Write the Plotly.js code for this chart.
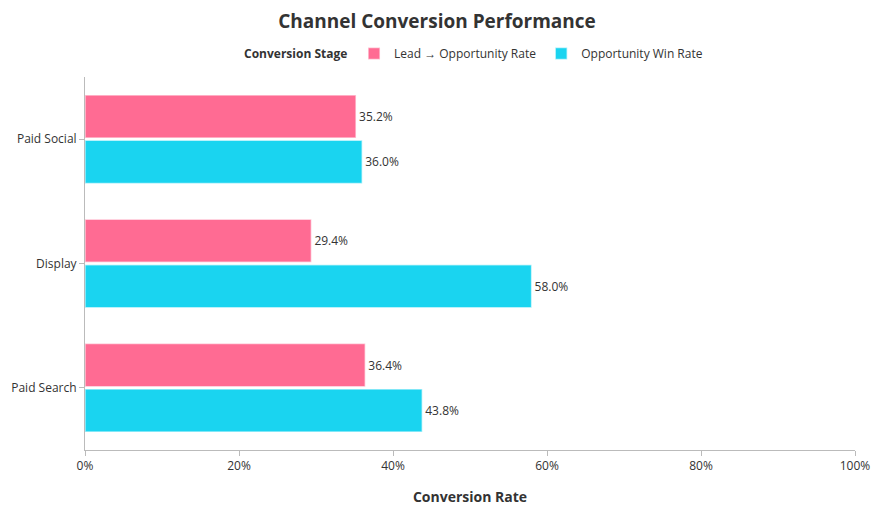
<!DOCTYPE html>
<html><head><meta charset="utf-8">
<script src="https://cdn.plot.ly/plotly-3.0.1.min.js"></script>
<style>html,body{margin:0;padding:0;background:#fff}#chart{width:874px;height:510px}</style>
</head><body><div id="chart"></div>
<script>
var categories = ["Paid Search", "Display", "Paid Social"];
var leadToOpp = [36.4, 29.4, 35.2];
var winRate = [43.8, 58.0, 36.0];
var seriesNames = ["Lead → Opportunity Rate", "Opportunity Win Rate"];
var legendTitle = "Conversion Stage";
var tickVals = [0, 20, 40, 60, 80, 100];
var tickText = ["0%", "20%", "40%", "60%", "80%", "100%"];

function fmt(a){ return a.map(function(v){ return v.toFixed(1) + "%"; }); }

var font = "Open Sans, sans-serif";
var traces = [
  {type:"bar", orientation:"h", name:seriesNames[1], y:categories, x:winRate,
   text:fmt(winRate), textposition:"outside", cliponaxis:false,
   textfont:{size:12, color:"#333"},
   marker:{color:"#1AD4F0", line:{color:"rgba(255,255,255,0.6)", width:1.5}}},
  {type:"bar", orientation:"h", name:seriesNames[0], y:categories, x:leadToOpp,
   text:fmt(leadToOpp), textposition:"outside", cliponaxis:false,
   textfont:{size:12, color:"#333"},
   marker:{color:"#FF6B93", line:{color:"rgba(255,255,255,0.6)", width:1.5}}}
];

var layout = {
  width:874, height:510,
  margin:{l:85, r:19, t:77, b:60},
  font:{family:font, size:12, color:"#333"},
  paper_bgcolor:"#fff", plot_bgcolor:"#fff",
  title:{text:"<b>Channel Conversion Performance</b>", x:0.5, xanchor:"center", y:0.958, yanchor:"middle",
         font:{size:19, color:"#333", family:font}},
  barmode:"group", bargap:0.27, bargroupgap:0.05,
  legend:{orientation:"h", x:0.3494, xanchor:"left", y:1.063, yanchor:"middle", traceorder:"reversed",
          itemwidth:30, font:{size:12}},
  annotations:[{text:"<b>" + legendTitle + "</b>", xref:"paper", yref:"paper", x:0.274, y:1.0617,
                xanchor:"center", yanchor:"middle", showarrow:false, font:{size:12, color:"#333"}}],
  xaxis:{range:[0,100], tickvals:tickVals, ticktext:tickText, showgrid:false, zeroline:false,
         showline:true, linecolor:"#bbb", linewidth:1, ticks:"outside", ticklen:5, tickcolor:"#bbb",
         title:{text:"<b>Conversion Rate</b>", font:{size:14}, standoff:18}, fixedrange:true},
  yaxis:{showgrid:false, zeroline:false, showline:true, linecolor:"#bbb", linewidth:1,
         ticks:"outside", ticklen:5, tickcolor:"#bbb", fixedrange:true}
};
Plotly.newPlot("chart", traces, layout, {displayModeBar:false, staticPlot:true});
</script></body></html>
